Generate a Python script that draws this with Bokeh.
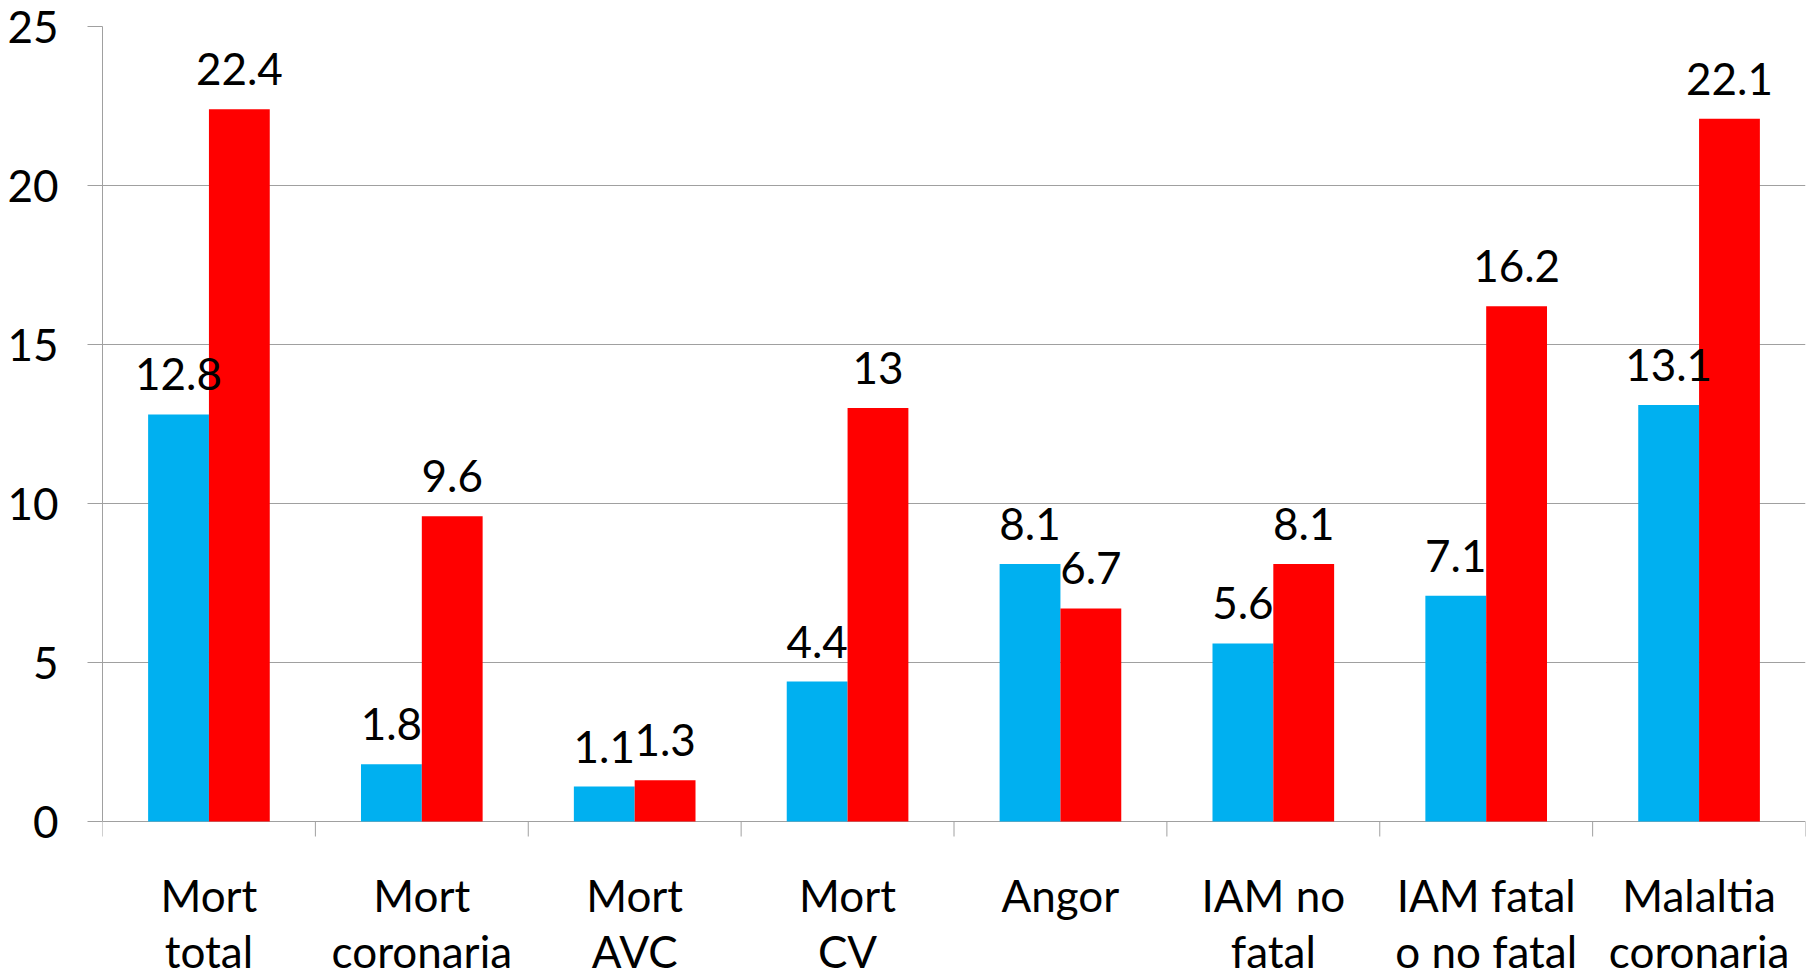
import math
from bokeh.plotting import figure
from bokeh.models import Range1d, FixedTicker, ColumnDataSource, LinearAxis
from bokeh.core.properties import value
from bokeh.transform import dodge
from bokeh.embed import file_html
from bokeh.resources import INLINE

categories = ["Mort\ntotal", "Mort\ncoronaria", "Mort\nAVC", "Mort\nCV",
              "Angor", "IAM no\nfatal", "IAM fatal\no no fatal", "Malaltia\ncoronaria"]
blue_values = [12.8, 1.8, 1.1, 4.4, 8.1, 5.6, 7.1, 13.1]
red_values = [22.4, 9.6, 1.3, 13.0, 6.7, 8.1, 16.2, 22.1]
y_ticks = [0, 5, 10, 15, 20, 25]

FONT = "Lato"
FS = "44px"
GRID = "#A0A0A0"

# layout (pixels)
W = 1813
H = 976
TOP = 26          # frame top (y = 25)
ZERO = 821        # pixel row of y = 0
px_per_unit = (ZERO - TOP) / (y_ticks[-1] - y_ticks[0])
y_start = -(H - ZERO) / px_per_unit

n = len(categories)
centers = [i + 0.5 for i in range(n)]
bounds_x = list(range(n + 1))
line1 = [c.split("\n")[0] for c in categories]
line2 = [c.split("\n")[1] if "\n" in c else "" for c in categories]
src = ColumnDataSource(dict(
    x=centers,
    zero=[0] * n,
    line1=line1,
    line2=line2,
    blue=blue_values,
    red=red_values,
    blue_lbl=["{:g}".format(v) for v in blue_values],
    red_lbl=["{:g}".format(v) for v in red_values],
))

p = figure(width=W, height=H, output_backend="svg", toolbar_location=None,
           x_range=Range1d(0, n), y_range=Range1d(y_start, y_ticks[-1]),
           min_border_left=102, min_border_right=8, min_border_top=TOP,
           min_border_bottom=0, x_axis_location=None, y_axis_location=None)
p.outline_line_color = None
p.xgrid.visible = False
p.ygrid.grid_line_color = GRID
p.ygrid.grid_line_width = 1
p.ygrid.ticker = FixedTicker(ticks=y_ticks)

bw = 1.0 / 3.5
p.vbar(x=dodge("x", -bw / 2, range=p.x_range), top="blue", width=bw, source=src,
       fill_color="#00B0F0", line_color=None)
p.vbar(x=dodge("x", bw / 2, range=p.x_range), top="red", width=bw, source=src,
       fill_color="#FF0000", line_color=None)

# value labels
p.text(x=dodge("x", -bw / 2, range=p.x_range), y="blue", text="blue_lbl", source=src,
       text_font=value(FONT), text_font_size=FS, text_align="center",
       text_baseline="alphabetic", y_offset=-40, text_color="black")
p.text(x=dodge("x", bw / 2, range=p.x_range), y="red", text="red_lbl", source=src,
       text_font=value(FONT), text_font_size=FS, text_align="center",
       text_baseline="alphabetic", y_offset=-40, text_color="black")

# category tick marks at the boundaries, below the zero line
p.ray(x=bounds_x, y=[0] * len(bounds_x), length=15, length_units="screen",
      angle=-math.pi / 2, line_color=GRID, line_width=1)

# category labels (two lines)
p.text(x="x", y="zero", text="line1", source=src, y_offset=73,
       text_font=value(FONT), text_font_size=FS, text_align="center",
       text_baseline="alphabetic", text_color="black")
p.text(x="x", y="zero", text="line2", source=src, y_offset=129,
       text_font=value(FONT), text_font_size=FS, text_align="center",
       text_baseline="alphabetic", text_color="black")

# y axis
yax = LinearAxis(ticker=FixedTicker(ticks=y_ticks), bounds=(y_ticks[0], y_ticks[-1]))
yax.axis_line_color = GRID
yax.major_tick_line_color = GRID
yax.major_tick_out = 15
yax.major_tick_in = 0
yax.minor_tick_line_color = None
yax.major_label_standoff = 29
yax.major_label_text_font = FONT
yax.major_label_text_font_size = FS
yax.major_label_text_color = "black"
p.add_layout(yax, "left")

open("out.html", "w").write(file_html(p, INLINE))
